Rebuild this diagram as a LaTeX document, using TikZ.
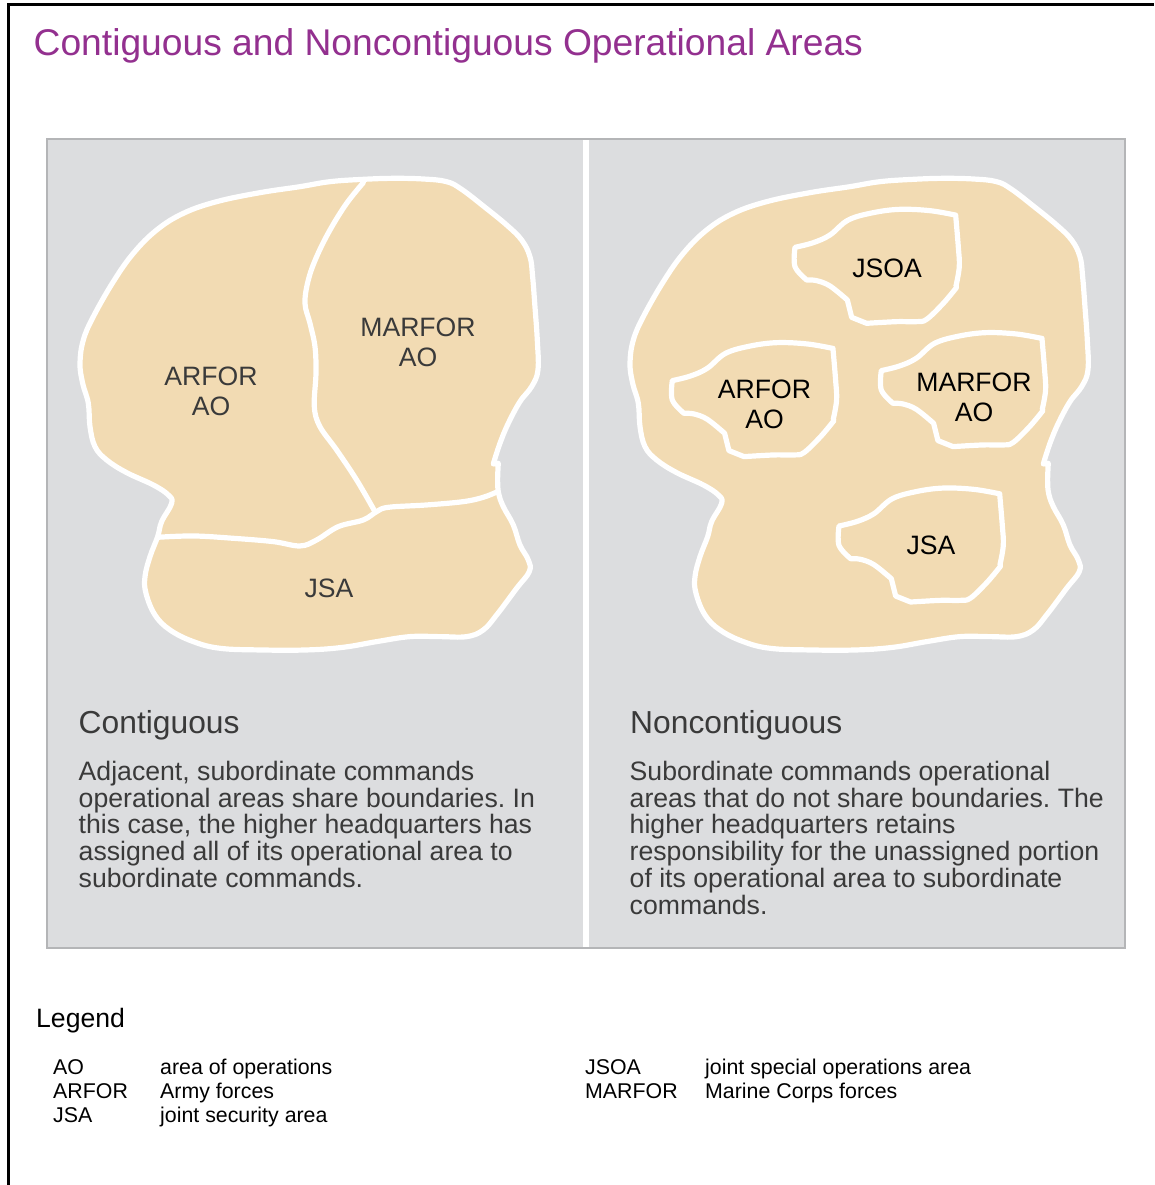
\documentclass[tikz,border=0pt]{standalone}
\usepackage{fontspec}
\setmainfont{Liberation Sans}
\frenchspacing
\definecolor{panelgrey}{HTML}{DCDDDF}
\definecolor{panelline}{HTML}{B4B5B7}
\definecolor{sand}{HTML}{F2DBB3}
\definecolor{titlepurple}{HTML}{93308F}
\definecolor{darktext}{HTML}{3A3A3A}
\newcommand{\outlinepath}{plot[smooth,tension=0.65] coordinates {(1315,910)(1313,960)(1316,1000)(1330,1040)(1360,1095)(1380,1155)(1405,1200)(1408,1235)(1370,1285)(1310,1365)(1270,1410)(1220,1430)(1140,1430)(1050,1430)(950,1445)(850,1462)(740,1470)(600,1470)(480,1465)(400,1445)(330,1410)(285,1365)(258,1300)(255,1250)(270,1190)(293,1130)(305,1085)(335,1030)(325,1005)(280,975)(200,938)(140,900)(105,860)(90,800)(85,730)(68,670)(60,610)(70,540)(100,470)(160,365)(220,280)(290,210)(370,160)(470,125)(600,98)(720,80)(810,65)(910,58)(1000,55)(1090,57)(1160,65)(1205,88)(1270,138)(1340,195)(1385,240)(1410,290)(1418,350)(1425,440)(1432,540)(1434,630)(1415,680)(1380,725)(1345,790)(1320,850)(1300,912)} -- cycle}
\newcommand{\pocketpath}{plot[smooth,tension=0.6] coordinates {(555,262)(610,248)(660,225)(715,180)(790,158)(870,148)(960,152)(1035,165)} -- plot[smooth,tension=0.6] coordinates {(1037,165)(1045,260)(1048,320)(1038,378)} -- plot[smooth,tension=0.6] coordinates {(1040,382)(1000,430)(950,478)(920,485)(860,485)(770,490)} -- (725,472) -- (712,420) -- plot[smooth,tension=0.6] coordinates {(712,420)(660,378)(620,362)(590,360)} -- plot[smooth,tension=0.6] coordinates {(590,360)(555,320)(555,262)} -- cycle}
\tikzset{
  px/.style={x=1pt,y=-1pt},
  zoomed/.style={x=0.3333pt,y=-0.3333pt},
  region/.style={draw=white,fill=sand,line width=5.2pt,line join=round},
  border/.style={draw=white,line width=5.2pt,line cap=round,line join=round},
  arealabel/.style={font=\fontsize{26.6}{30}\selectfont,align=center,text=darktext,inner sep=0pt},
  pocketlabel/.style={arealabel,text=black},
  heading/.style={font=\fontsize{31.8}{36}\selectfont,text=darktext,inner sep=0pt,anchor=base west},
  bodytext/.style={font=\fontsize{26.65}{26.8}\selectfont,text=darktext,inner sep=0pt,align=left,anchor=north west},
  legendtext/.style={font=\fontsize{21.35}{24}\selectfont,text=black,inner sep=0pt,anchor=base west},
}
\begin{document}
\begin{tikzpicture}[px]
\useasboundingbox (0,0) rectangle (1154,1185);
\fill[white] (0,0) rectangle (1154,1185);
\draw[black,line width=3pt] (8.5,1185) -- (8.5,4.5) -- (1154,4.5);
\node[anchor=base west,inner sep=0pt,text=titlepurple,font=\fontsize{37.2}{44}\selectfont] (title) at (33.5,56) {Contiguous and Noncontiguous Operational Areas};
\draw[panelline,fill=panelgrey,line width=2pt] (46.5,139.5) rectangle (1125,948);
\fill[white] (583,140.5) rectangle (589,947);
% left map
\begin{scope}[shift={(60,160)},zoomed]
\path[region] \outlinepath;
\draw[border] plot[smooth,tension=0.6] coordinates {(910,68)(860,130)(810,210)(770,290)(745,360)(735,430)(750,490)(765,560)(768,640)(763,740)(780,800)(830,870)(890,960)(945,1055)};
\draw[border] plot[smooth,tension=0.6] coordinates {(293,1132)(400,1128)(520,1135)(640,1145)(720,1158)(770,1140)(835,1100)(910,1080)(950,1055)(985,1042)(1100,1035)(1210,1025)(1270,1012)(1313,995)};
\end{scope}
% right map
\begin{scope}[shift={(610,160)},zoomed]
\path[region] \outlinepath;
\end{scope}
\begin{scope}[shift={(610,160)},zoomed]
\path[region] \pocketpath;
\end{scope}
\begin{scope}[shift={(487.3,293.3)},zoomed]
\path[region] \pocketpath;
\end{scope}
\begin{scope}[shift={(696.3,283.3)},zoomed]
\path[region] \pocketpath;
\end{scope}
\begin{scope}[shift={(654,438.7)},zoomed]
\path[region] \pocketpath;
\end{scope}
\node[arealabel] (larfor) at (211,391) {ARFOR\\AO};
\node[arealabel] (lmarfor) at (418,342) {MARFOR\\AO};
\node[arealabel] (ljsa) at (329,588.5) {JSA};
\node[pocketlabel] (rjsoa) at (887,268) {JSOA};
\node[pocketlabel] (rarfor) at (764.5,404) {ARFOR\\AO};
\node[pocketlabel] (rmarfor) at (974,397.5) {MARFOR\\AO};
\node[pocketlabel] (rjsa) at (931,545) {JSA};
\node[heading] (conthead) at (78.5,733) {Contiguous};
\node[heading] (nonhead) at (630,733) {Noncontiguous};
\node[bodytext] (contbody) at (78.5,760.7) {Adjacent, subordinate commands\\operational areas share boundaries. In\\this case, the higher headquarters has\\assigned all of its operational area to\\subordinate commands.};
\node[bodytext] (nonbody) at (629.5,760.7) {Subordinate commands operational\\areas that do not share boundaries. The\\higher headquarters retains\\responsibility for the unassigned portion\\of its operational area to subordinate\\commands.};
\node[anchor=base west,inner sep=0pt,text=black,font=\fontsize{26.6}{30}\selectfont] (legend) at (36,1027) {Legend};
\node[legendtext] (k1) at (53,1074) {AO};
\node[legendtext] (v1) at (160,1074) {area of operations};
\node[legendtext] (k2) at (53,1098) {ARFOR};
\node[legendtext] (v2) at (160,1098) {Army forces};
\node[legendtext] (k3) at (53,1122) {JSA};
\node[legendtext] (v3) at (160,1122) {joint security area};
\node[legendtext] (k4) at (585,1074) {JSOA};
\node[legendtext] (v4) at (705,1074) {joint special operations area};
\node[legendtext] (k5) at (585,1098) {MARFOR};
\node[legendtext] (v5) at (705,1098) {Marine Corps forces};
\end{tikzpicture}
\end{document}
